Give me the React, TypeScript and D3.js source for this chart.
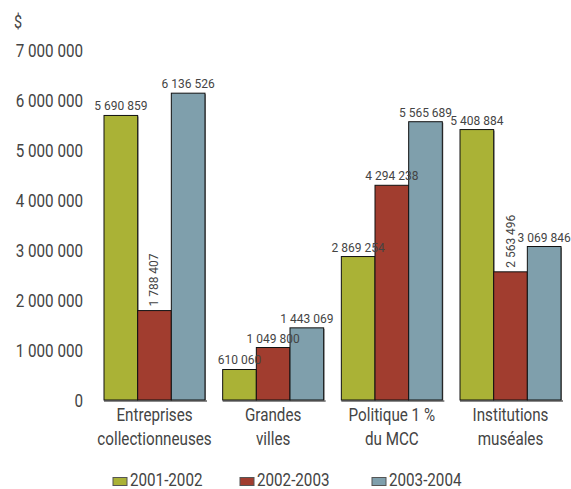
import React from "react";
import * as d3 from "d3";

const categories = [
  ["Entreprises", "collectionneuses"],
  ["Grandes", "villes"],
  ["Politique 1 %", "du MCC"],
  ["Institutions", "muséales"],
];
const seriesNames = ["2001-2002", "2002-2003", "2003-2004"];
const seriesColors = ["#aab236", "#a13d2f", "#7f9fac"];
const values2001 = [5690859, 610060, 2869254, 5408884];
const values2002 = [1788407, 1049800, 4294238, 2563496];
const values2003 = [6136526, 1443069, 5565689, 3069846];
const rotatedLabels = [[false, true, false], [false, false, false], [false, false, false], [false, true, false]];
const yTicks = [0, 1000000, 2000000, 3000000, 4000000, 5000000, 6000000, 7000000];

const W = 571;
const H = 489;
const FONT = "Roboto, 'Liberation Sans', sans-serif";
const BIG = 19;
const SX = 0.8;

const fmt = (v: number) => {
  const s = Math.round(v).toString();
  return s.replace(/\B(?=(\d{3})+(?!\d))/g, " ");
};

function T({ x, y, anchor = "start", size = BIG, sx = SX, dy, rotate = 0, children }: any) {
  return (
    <text
      transform={`translate(${x},${y}) rotate(${rotate}) scale(${sx},1)`}
      textAnchor={anchor}
      fontSize={size}
      fontWeight={400}
      dy={dy}
      fill="#444"
    >
      {children}
    </text>
  );
}

export default function App() {
  const series = [values2001, values2002, values2003];
  const y = d3.scaleLinear().domain([0, 7000000]).range([400, 50]);
  const x0 = d3
    .scaleBand<number>()
    .domain(categories.map((_, i) => i))
    .range([104, 561])
    .paddingInner(0.149)
    .paddingOuter(0);
  const x1 = d3
    .scaleBand<number>()
    .domain(seriesNames.map((_, i) => i))
    .range([0, x0.bandwidth()])
    .padding(0);

  return (
    <svg width={W} height={H} style={{ position: "absolute", left: 0, top: 0, background: "#fff" }} fontFamily={FONT}>
      <rect x={0} y={0} width={W} height={H} fill="#fff" />
      <T x={14} y={28} size={18}>$</T>
      {yTicks.map((t) => (
        <T key={t} x={83} y={y(t)} dy="0.35em" anchor="end">
          {t === 0 ? "0" : fmt(t)}
        </T>
      ))}
      {categories.map((cat, ci) => {
        const gx = x0(ci)!;
        return (
          <g key={ci}>
            <rect x={gx} y={y(0)} width={x0.bandwidth() + 2} height={2} fill="#8a8a8a" />
            {series.map((vals, si) => {
              const bx = gx + x1(si)!;
              const bw = x1.bandwidth();
              const top = y(vals[ci]);
              return (
                <g key={si}>
                  <rect x={bx + 1} y={top + 1} width={bw} height={y(0) - top} fill="#8a8a8a" />
                  <rect x={bx} y={top} width={bw} height={y(0) - top} fill={seriesColors[si]} stroke="#111" strokeWidth={1} />
                </g>
              );
            })}
            {series.map((vals, si) => {
              const bx = gx + x1(si)! + x1.bandwidth() / 2;
              const top = y(vals[ci]);
              if (rotatedLabels[ci][si]) {
                return (
                  <T key={"l" + si} x={bx + 4} y={top - 4} rotate={-90} size={12} sx={1}>
                    {fmt(vals[ci])}
                  </T>
                );
              }
              return (
                <T key={"l" + si} x={bx} y={top - 5} anchor="middle" size={12} sx={1}>
                  {fmt(vals[ci])}
                </T>
              );
            })}
            {cat.map((line, li) => (
              <T key={"c" + li} x={gx + x0.bandwidth() / 2} y={421 + li * 24} anchor="middle">
                {line}
              </T>
            ))}
          </g>
        );
      })}
      {seriesNames.map((name, i) => {
        const lx = [113, 240, 372][i];
        return (
          <g key={name}>
            <rect x={lx} y={477.5} width={14} height={8} fill={seriesColors[i]} stroke="#555" strokeWidth={1} />
            <T x={lx + 17} y={485.5}>{name}</T>
          </g>
        );
      })}
    </svg>
  );
}
